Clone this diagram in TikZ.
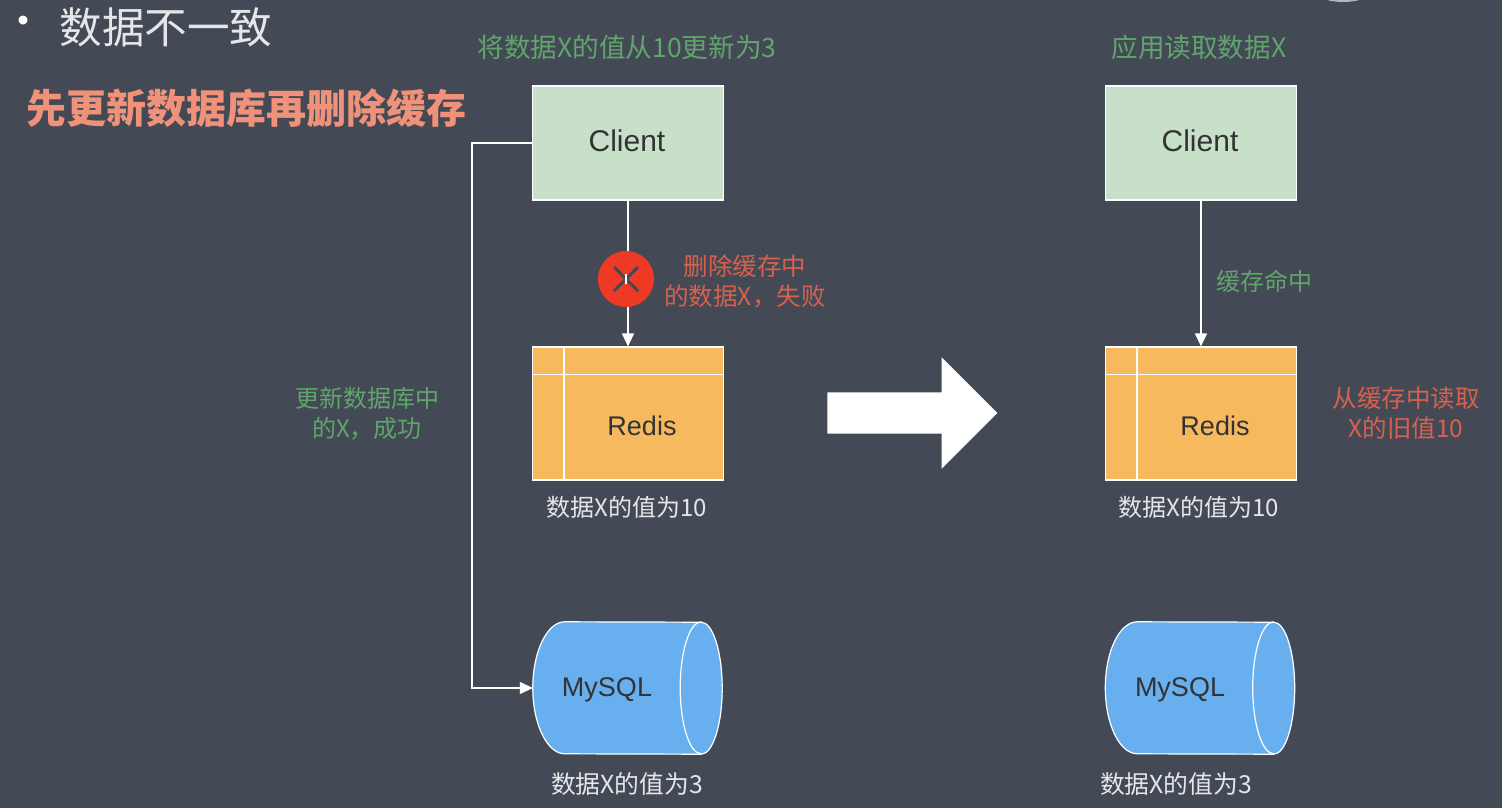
\documentclass[tikz,border=0pt]{standalone}
\usepackage{fontspec}
\setmainfont{Noto Sans CJK SC}
\newfontfamily\latinfont{Liberation Sans}
\usetikzlibrary{arrows.meta}
\usetikzlibrary{shapes.arrows}
\definecolor{slidebg}{HTML}{444A55}
\definecolor{greenlabel}{HTML}{5FA56C}
\definecolor{redlabel}{HTML}{D9604E}
\definecolor{titlered}{HTML}{F0917A}
\definecolor{failred}{HTML}{EE3A24}
\definecolor{clientfill}{HTML}{C8E0C9}
\definecolor{redisfill}{HTML}{F6B95E}
\definecolor{mysqlfill}{HTML}{68AFEF}
\definecolor{softwhite}{HTML}{E4E6E8}
\tikzstyle{clientbox}=[draw=white,line width=1.2pt,fill=clientfill,minimum width=191pt,minimum height=114pt,inner sep=0pt]
\tikzstyle{redisbox}=[draw=white,line width=1.2pt,fill=redisfill,minimum width=191pt,minimum height=133pt,inner sep=0pt]
\tikzstyle{mysqlbox}=[minimum width=189pt,minimum height=132pt,inner sep=0pt]
\tikzstyle{link}=[white,line width=1.3pt,-{Triangle[length=13pt,width=12pt]}]
\tikzstyle{greenhead}=[text=greenlabel,align=center,font=\fontsize{26.6}{30}\selectfont]
\tikzstyle{greentext}=[text=greenlabel,align=center,font=\fontsize{24}{30}\selectfont]
\tikzstyle{redtext}=[text=redlabel,align=center,font=\fontsize{24.5}{30}\selectfont]
\tikzstyle{valuetext}=[text=softwhite,align=center,font=\fontsize{24}{30}\selectfont]
\tikzstyle{smallvaluetext}=[text=softwhite,align=center,font=\fontsize{24.8}{30}\selectfont]
\tikzstyle{nametext}=[text=black!80,inner sep=0pt,font=\latinfont\fontsize{27}{30}\selectfont]
\tikzstyle{clienttext}=[text=black!80,inner sep=0pt,font=\latinfont\fontsize{30}{30}\selectfont]
\newcommand{\redislines}[1]{
\draw[white,line width=1.2pt] ([xshift=32pt]#1.north west) -- ([xshift=32pt]#1.south west);
\draw[white,line width=1.2pt] ([yshift=-28pt]#1.north west) -- ([yshift=-28pt]#1.north east);
}
\newcommand{\mysqlbody}[1]{
\filldraw[draw=white,fill=mysqlfill,line width=1.2pt] ([xshift=32pt]#1.north west) arc (90:270:32pt and 66pt) -- ([xshift=-21pt]#1.south east) arc (270:450:21pt and 66pt) -- cycle;
\draw[white,line width=1.2pt] ([xshift=-21pt]#1.north east) arc (90:270:21pt and 66pt);
}
\begin{document}
\begin{tikzpicture}[x=1pt,y=-1pt]
  \useasboundingbox[fill=slidebg] (0,0) rectangle (1502,808);
  \begin{scope}
  \clip (0,0) rectangle (1502,808);
  \fill[softwhite!70!slidebg] (1343,-8) ellipse (27pt and 10pt);
  \end{scope}
  % heading
  \node[text=white,font=\fontsize{42}{48}\selectfont] (bullet) at (23,26) {•};
  \node[text=softwhite,font=\fontsize{42.6}{48}\selectfont] (heading) at (166,27) {数据不一致};
  \node[text=titlered,font=\bfseries\fontsize{40}{46}\selectfont] (subheading) at (247,108) {先更新数据库再删除缓存};
  % left half
  \node[greenhead] (updatetext) at (627,47) {将数据X的值从10更新为3};
  \node[clientbox] (clientleft) at (628,143) {};
  \node[clienttext] (clientnameleft) at (627,141) {Client};
  \node[redisbox] (redisleft) at (628,413.5) {};
  \redislines{redisleft}
  \node[nametext] (redisnameleft) at (642,426) {Redis};
  \node[mysqlbox] (mysqlleft) at (627.5,688) {};
  \mysqlbody{mysqlleft}
  \node[nametext] (mysqlnameleft) at (607,690) {MySQL};
  \draw[link] (clientleft) -- (redisleft);
  \draw[link] (clientleft.west) -- ++(-60,0) |- (mysqlleft.west);
  \node[circle,fill=failred,minimum size=56pt,inner sep=0pt] (failmark) at (626,279) {};
  \draw[slidebg,line width=3pt] ([shift={(-12,-12)}]failmark.center) -- ([shift={(12,12)}]failmark.center);
  \draw[slidebg,line width=3pt] ([shift={(-12,12)}]failmark.center) -- ([shift={(12,-12)}]failmark.center);
  \draw[white,line width=1.5pt] ([yshift=5pt]failmark.center) -- ([yshift=-5pt]failmark.center);
  \node[redtext] (failtext) at (745,281) {删除缓存中\\的数据X，失败};
  \node[greentext] (successtext) at (367,414) {更新数据库中\\的X，成功};
  \node[valuetext] (redisvalueleft) at (627,507) {数据X的值为10};
  \node[smallvaluetext] (mysqlvalueleft) at (627,784) {数据X的值为3};
  % big arrow
  \node[single arrow,fill=white,minimum height=170pt,inner sep=20.5pt,single arrow head extend=35pt,single arrow head indent=0pt] (bigarrow) at (902,413) {};
  % right half
  \node[greenhead] (readtext) at (1199,47) {应用读取数据X};
  \node[clientbox] (clientright) at (1201,143) {};
  \node[clienttext] (clientnameright) at (1200,141) {Client};
  \node[redisbox] (redisright) at (1201,413.5) {};
  \redislines{redisright}
  \node[nametext] (redisnameright) at (1215,426) {Redis};
  \node[mysqlbox] (mysqlright) at (1200,688) {};
  \mysqlbody{mysqlright}
  \node[nametext] (mysqlnameright) at (1180,690) {MySQL};
  \draw[link] (clientright) -- (redisright);
  \node[greentext] (hittext) at (1264,281) {缓存命中};
  \node[redtext] (oldtext) at (1406,413) {从缓存中读取\\X的旧值10};
  \node[valuetext] (redisvalueright) at (1199,507) {数据X的值为10};
  \node[smallvaluetext] (mysqlvalueright) at (1176,784) {数据X的值为3};
\end{tikzpicture}
\end{document}
